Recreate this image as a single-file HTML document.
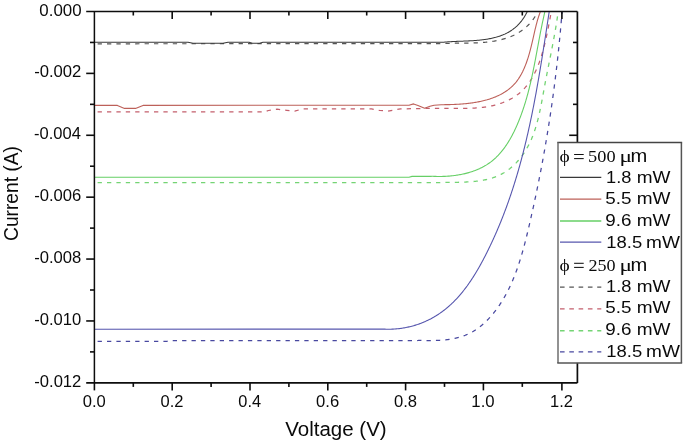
<!DOCTYPE html>
<html><head><meta charset="utf-8"><style>
html,body{margin:0;padding:0;background:#fff;width:685px;height:441px;overflow:hidden}
svg{display:block}
svg{font-family:"Liberation Sans",sans-serif}
</style></head><body>
<svg width="685" height="441" viewBox="0 0 685 441" style="will-change:transform">
<rect width="685" height="441" fill="#fff"/>
<defs><clipPath id="pc"><rect x="94.40" y="11.50" width="483.00" height="371.40"/></clipPath></defs>
<g clip-path="url(#pc)" fill="none" stroke-width="1.25" stroke-linejoin="round">
<path d="M94.40 43.80 L439.00 43.60 L440.02 43.59 L441.00 43.54 L441.97 43.50 L442.95 43.46 L443.94 43.42 L444.93 43.39 L445.92 43.36 L446.91 43.34 L447.91 43.32 L448.91 43.30 L449.91 43.28 L450.91 43.27 L451.92 43.25 L452.93 43.24 L453.94 43.23 L454.95 43.22 L455.97 43.21 L456.98 43.21 L458.00 43.20 L459.02 43.19 L460.04 43.19 L461.06 43.18 L462.09 43.17 L463.11 43.16 L464.13 43.15 L465.16 43.14 L466.18 43.12 L467.21 43.11 L468.23 43.09 L469.25 43.07 L470.28 43.05 L471.30 43.02 L472.33 43.00 L473.35 42.96 L474.37 42.93 L475.39 42.89 L476.41 42.84 L477.43 42.80 L478.44 42.74 L479.46 42.69 L480.47 42.62 L481.48 42.56 L482.49 42.48 L483.50 42.40 L484.51 42.32 L485.51 42.23 L486.51 42.13 L487.51 42.02 L488.50 41.91 L489.49 41.79 L490.48 41.66 L491.46 41.53 L492.44 41.39 L493.42 41.23 L494.40 41.07 L495.37 40.90 L496.33 40.73 L497.29 40.54 L498.25 40.34 L499.20 40.13 L500.15 39.92 L501.09 39.69 L502.03 39.45 L502.96 39.20 L503.89 38.94 L504.81 38.67 L505.73 38.39 L506.64 38.10 L507.55 37.79 L508.45 37.47 L509.34 37.14 L510.23 36.80 L511.11 36.44 L511.98 36.07 L512.85 35.68 L513.71 35.29 L514.56 34.87 L515.41 34.45 L516.25 34.01 L517.08 33.55 L517.90 33.08 L518.72 32.59 L519.53 32.09 L520.33 31.58 L521.12 31.04 L521.90 30.49 L522.68 29.93 L523.45 29.34 L524.21 28.74 L524.95 28.13 L525.69 27.49 L526.43 26.84 L527.15 26.17 L527.86 25.48 L528.56 24.77 L529.25 24.05 L529.94 23.30 L530.61 22.54 L531.27 21.75 L531.93 20.95 L532.57 20.12 L533.20 19.28 L533.82 18.42 L534.43 17.53 L535.03 16.63 L535.61 15.70 L536.19 14.75 L536.75 13.78 L537.31 12.79 L537.85 11.77 L542.01 3.79" stroke="#555" stroke-width="1.20" stroke-dasharray="4.3 5.1" stroke-dashoffset="6.2"/>
<path d="M94.40 111.90 L265.00 111.80 L268.40 110.50 L277.00 109.20 L286.80 110.30 L294.70 111.10 L302.60 108.90 L371.50 108.90 L380.00 110.50 L388.00 111.10 L400.40 108.90 L433.00 108.30 L437.50 108.32 L438.52 108.33 L439.50 108.32 L440.48 108.31 L441.46 108.31 L442.45 108.31 L443.44 108.31 L444.43 108.31 L445.43 108.32 L446.43 108.33 L447.43 108.34 L448.44 108.35 L449.45 108.36 L450.45 108.37 L451.47 108.38 L452.48 108.39 L453.50 108.40 L454.51 108.41 L455.53 108.42 L456.55 108.42 L457.57 108.43 L458.60 108.43 L459.62 108.44 L460.64 108.43 L461.67 108.43 L462.69 108.43 L463.72 108.42 L464.74 108.41 L465.77 108.39 L466.80 108.37 L467.82 108.35 L468.85 108.32 L469.87 108.28 L470.90 108.25 L471.92 108.20 L472.94 108.15 L473.96 108.10 L474.98 108.04 L476.00 107.97 L477.02 107.89 L478.03 107.81 L479.05 107.72 L480.06 107.63 L481.07 107.52 L482.08 107.41 L483.08 107.29 L484.08 107.16 L485.08 107.02 L486.08 106.88 L487.08 106.72 L488.07 106.55 L489.05 106.38 L490.04 106.19 L491.02 105.99 L492.00 105.78 L492.97 105.56 L493.94 105.33 L494.90 105.09 L495.86 104.84 L496.82 104.57 L497.77 104.30 L498.71 104.01 L499.65 103.71 L500.59 103.40 L501.51 103.07 L502.44 102.74 L503.35 102.39 L504.26 102.03 L505.16 101.66 L506.05 101.28 L506.94 100.88 L507.81 100.47 L508.68 100.05 L509.55 99.62 L510.40 99.17 L511.24 98.71 L512.08 98.24 L512.90 97.75 L513.72 97.26 L514.53 96.74 L515.32 96.22 L516.11 95.68 L516.88 95.13 L517.65 94.57 L518.40 93.99 L519.14 93.39 L519.88 92.79 L520.59 92.17 L521.30 91.54 L522.00 90.89 L522.68 90.23 L523.35 89.55 L524.01 88.86 L524.65 88.16 L525.29 87.45 L525.91 86.72 L526.52 85.98 L527.12 85.23 L527.71 84.47 L528.29 83.70 L528.86 82.91 L529.41 82.12 L529.96 81.31 L530.50 80.50 L531.02 79.67 L531.54 78.83 L532.04 77.99 L532.54 77.13 L533.03 76.27 L533.50 75.40 L533.97 74.51 L534.43 73.63 L534.88 72.73 L535.32 71.82 L535.75 70.91 L536.17 69.99 L536.59 69.07 L537.00 68.13 L537.39 67.19 L537.78 66.25 L538.17 65.30 L538.54 64.34 L538.91 63.38 L539.27 62.41 L539.62 61.44 L539.96 60.46 L540.30 59.48 L540.63 58.50 L540.96 57.51 L541.27 56.52 L541.59 55.53 L541.89 54.53 L542.19 53.53 L542.48 52.53 L542.77 51.53 L543.05 50.52 L543.33 49.51 L543.60 48.51 L543.86 47.50 L544.12 46.49 L544.38 45.48 L544.63 44.47 L544.87 43.46 L545.11 42.45 L545.35 41.44 L545.58 40.43 L545.81 39.42 L546.03 38.42 L546.25 37.41 L546.47 36.41 L546.68 35.41 L546.89 34.41 L547.10 33.42 L547.30 32.43 L547.50 31.44 L547.70 30.45 L547.90 29.47 L548.09 28.50 L548.28 27.52 L548.47 26.56 L548.65 25.59 L548.84 24.64 L549.02 23.69 L549.20 22.74 L549.38 21.80 L549.56 20.87 L549.73 19.94 L549.91 19.02 L550.09 18.10 L550.26 17.20 L550.43 16.30 L550.61 15.41 L550.78 14.53 L550.95 13.65 L552.70 4.83" stroke="#c45f6c" stroke-width="1.25" stroke-dasharray="4.3 5.1" stroke-dashoffset="6.2"/>
<path d="M94.40 182.70 L440.00 182.60 L442.00 182.56 L442.99 182.49 L443.96 182.47 L444.94 182.45 L445.92 182.44 L446.91 182.42 L447.90 182.41 L448.89 182.40 L449.89 182.39 L450.90 182.38 L451.91 182.37 L452.92 182.35 L453.93 182.34 L454.95 182.33 L455.97 182.31 L456.99 182.30 L458.01 182.28 L459.04 182.26 L460.07 182.23 L461.10 182.20 L462.13 182.17 L463.16 182.14 L464.19 182.10 L465.22 182.06 L466.25 182.01 L467.28 181.96 L468.31 181.90 L469.34 181.83 L470.37 181.76 L471.40 181.69 L472.42 181.60 L473.45 181.51 L474.47 181.41 L475.49 181.31 L476.50 181.20 L477.51 181.07 L478.52 180.94 L479.53 180.80 L480.53 180.65 L481.53 180.50 L482.52 180.33 L483.51 180.15 L484.49 179.96 L485.47 179.76 L486.44 179.55 L487.41 179.32 L488.37 179.09 L489.33 178.84 L490.27 178.58 L491.22 178.30 L492.15 178.02 L493.08 177.72 L494.00 177.40 L494.91 177.07 L495.81 176.73 L496.70 176.37 L497.59 176.00 L498.47 175.61 L499.33 175.21 L500.19 174.79 L501.04 174.35 L501.88 173.91 L502.71 173.44 L503.54 172.97 L504.35 172.47 L505.16 171.97 L505.95 171.45 L506.74 170.92 L507.51 170.37 L508.28 169.81 L509.04 169.24 L509.79 168.66 L510.53 168.06 L511.26 167.45 L511.99 166.83 L512.70 166.20 L513.40 165.56 L514.10 164.90 L514.78 164.24 L515.46 163.56 L516.13 162.87 L516.78 162.17 L517.43 161.46 L518.07 160.75 L518.70 160.02 L519.32 159.28 L519.94 158.53 L520.54 157.77 L521.13 157.01 L521.71 156.23 L522.29 155.45 L522.85 154.65 L523.41 153.85 L523.96 153.05 L524.49 152.23 L525.02 151.40 L525.54 150.57 L526.05 149.73 L526.55 148.89 L527.04 148.04 L527.52 147.18 L527.99 146.31 L528.45 145.44 L528.90 144.56 L529.35 143.68 L529.78 142.79 L530.20 141.89 L530.62 140.99 L531.02 140.09 L531.42 139.18 L531.81 138.26 L532.19 137.34 L532.56 136.42 L532.92 135.49 L533.28 134.56 L533.62 133.62 L533.96 132.68 L534.29 131.73 L534.62 130.78 L534.94 129.83 L535.25 128.87 L535.55 127.91 L535.85 126.95 L536.14 125.98 L536.42 125.01 L536.70 124.04 L536.98 123.06 L537.24 122.08 L537.50 121.10 L537.76 120.12 L538.01 119.13 L538.26 118.15 L538.50 117.16 L538.74 116.16 L538.97 115.17 L539.20 114.17 L539.42 113.18 L539.64 112.18 L539.86 111.18 L540.07 110.18 L540.28 109.17 L540.49 108.17 L540.69 107.17 L540.89 106.16 L541.09 105.16 L541.29 104.15 L541.48 103.15 L541.67 102.14 L541.86 101.13 L542.05 100.13 L542.23 99.12 L542.42 98.12 L542.60 97.11 L542.78 96.11 L542.97 95.10 L543.15 94.10 L543.33 93.10 L543.51 92.10 L543.69 91.10 L543.87 90.10 L544.05 89.10 L544.23 88.10 L544.41 87.11 L544.59 86.12 L544.78 85.13 L544.96 84.14 L545.14 83.15 L545.33 82.17 L545.52 81.19 L545.70 80.21 L545.89 79.23 L546.08 78.25 L546.27 77.27 L546.45 76.29 L546.64 75.32 L546.83 74.35 L547.02 73.37 L547.21 72.40 L547.40 71.43 L547.60 70.46 L547.79 69.50 L547.98 68.53 L548.17 67.56 L548.36 66.59 L548.55 65.63 L548.75 64.66 L548.94 63.70 L549.13 62.74 L549.32 61.77 L549.51 60.81 L549.70 59.85 L549.90 58.88 L550.09 57.92 L550.28 56.96 L550.47 56.00 L550.66 55.03 L550.85 54.07 L551.04 53.11 L551.23 52.15 L551.42 51.18 L551.61 50.22 L551.79 49.25 L551.98 48.29 L552.17 47.32 L552.35 46.36 L552.54 45.39 L552.72 44.42 L552.91 43.46 L553.09 42.49 L553.27 41.52 L553.45 40.55 L553.63 39.58 L553.81 38.60 L553.99 37.63 L554.17 36.65 L554.34 35.68 L554.52 34.70 L554.69 33.72 L554.86 32.74 L555.04 31.76 L555.21 30.77 L555.37 29.79 L555.54 28.80 L555.71 27.81 L555.87 26.82 L556.04 25.82 L556.20 24.83 L556.36 23.83 L556.52 22.83 L556.67 21.83 L556.83 20.83 L556.98 19.82 L557.14 18.81 L557.29 17.80 L557.43 16.79 L558.73 7.88" stroke="#74d474" stroke-width="1.30" stroke-dasharray="4.3 5.1" stroke-dashoffset="6.2"/>
<path d="M94.40 341.30 L167.00 341.30 L171.00 340.50 L417.60 340.50 L418.56 340.41 L419.55 340.43 L420.54 340.45 L421.53 340.47 L422.53 340.49 L423.53 340.51 L424.53 340.52 L425.54 340.53 L426.55 340.54 L427.57 340.55 L428.58 340.55 L429.60 340.55 L430.62 340.54 L431.64 340.53 L432.66 340.52 L433.69 340.50 L434.71 340.47 L435.73 340.44 L436.76 340.41 L437.78 340.36 L438.80 340.31 L439.83 340.26 L440.85 340.19 L441.87 340.12 L442.89 340.04 L443.90 339.96 L444.92 339.86 L445.93 339.76 L446.94 339.64 L447.95 339.52 L448.95 339.39 L449.95 339.24 L450.95 339.09 L451.94 338.92 L452.93 338.75 L453.91 338.56 L454.89 338.36 L455.86 338.15 L456.83 337.92 L457.79 337.69 L458.75 337.44 L459.70 337.17 L460.64 336.90 L461.58 336.60 L462.50 336.30 L463.43 335.98 L464.34 335.64 L465.25 335.29 L466.14 334.92 L467.03 334.54 L467.92 334.14 L468.79 333.73 L469.65 333.31 L470.51 332.86 L471.36 332.41 L472.20 331.94 L473.04 331.46 L473.86 330.96 L474.68 330.45 L475.49 329.93 L476.30 329.40 L477.09 328.85 L477.88 328.29 L478.66 327.72 L479.43 327.14 L480.19 326.55 L480.95 325.94 L481.70 325.33 L482.44 324.70 L483.17 324.07 L483.90 323.42 L484.62 322.77 L485.33 322.10 L486.03 321.43 L486.73 320.75 L487.42 320.06 L488.10 319.36 L488.78 318.65 L489.44 317.93 L490.10 317.21 L490.76 316.48 L491.40 315.74 L492.04 314.99 L492.67 314.24 L493.30 313.48 L493.92 312.71 L494.53 311.94 L495.13 311.17 L495.73 310.38 L496.32 309.60 L496.90 308.81 L497.48 308.01 L498.04 307.21 L498.61 306.40 L499.16 305.59 L499.71 304.78 L500.25 303.96 L500.79 303.13 L501.32 302.31 L501.84 301.48 L502.36 300.64 L502.87 299.80 L503.37 298.96 L503.87 298.11 L504.36 297.26 L504.85 296.41 L505.33 295.55 L505.81 294.68 L506.27 293.82 L506.74 292.95 L507.20 292.08 L507.65 291.20 L508.09 290.32 L508.53 289.44 L508.97 288.55 L509.40 287.66 L509.83 286.77 L510.25 285.87 L510.66 284.97 L511.07 284.07 L511.48 283.16 L511.88 282.25 L512.27 281.34 L512.66 280.43 L513.05 279.51 L513.43 278.59 L513.80 277.67 L514.18 276.75 L514.54 275.82 L514.91 274.89 L515.27 273.96 L515.62 273.02 L515.97 272.08 L516.32 271.14 L516.66 270.20 L517.00 269.26 L517.33 268.31 L517.66 267.36 L517.99 266.41 L518.31 265.46 L518.63 264.50 L518.95 263.55 L519.26 262.59 L519.57 261.63 L519.88 260.67 L520.18 259.70 L520.48 258.74 L520.78 257.77 L521.07 256.80 L521.36 255.84 L521.65 254.86 L521.93 253.89 L522.21 252.92 L522.49 251.94 L522.77 250.97 L523.04 249.99 L523.31 249.01 L523.58 248.03 L523.84 247.05 L524.11 246.07 L524.37 245.09 L524.63 244.10 L524.88 243.12 L525.14 242.14 L525.39 241.15 L525.64 240.16 L525.89 239.18 L526.14 238.19 L526.38 237.20 L526.63 236.21 L526.87 235.23 L527.11 234.24 L527.35 233.25 L527.58 232.26 L527.82 231.27 L528.06 230.28 L528.29 229.29 L528.52 228.30 L528.75 227.31 L528.98 226.32 L529.21 225.33 L529.44 224.34 L529.67 223.36 L529.90 222.37 L530.12 221.38 L530.35 220.39 L530.57 219.40 L530.79 218.42 L531.02 217.43 L531.24 216.44 L531.46 215.46 L531.68 214.47 L531.90 213.49 L532.12 212.50 L532.34 211.52 L532.56 210.53 L532.77 209.55 L532.99 208.56 L533.21 207.58 L533.42 206.59 L533.64 205.61 L533.85 204.63 L534.06 203.64 L534.27 202.66 L534.48 201.68 L534.69 200.70 L534.90 199.71 L535.11 198.73 L535.32 197.75 L535.53 196.77 L535.73 195.79 L535.94 194.81 L536.14 193.82 L536.35 192.84 L536.55 191.86 L536.76 190.88 L536.96 189.90 L537.16 188.92 L537.36 187.94 L537.56 186.96 L537.76 185.98 L537.96 185.00 L538.15 184.02 L538.35 183.04 L538.55 182.06 L538.74 181.09 L538.94 180.11 L539.13 179.13 L539.32 178.15 L539.52 177.17 L539.71 176.19 L539.90 175.21 L540.09 174.24 L540.28 173.26 L540.47 172.28 L540.66 171.30 L540.84 170.32 L541.03 169.35 L541.22 168.37 L541.40 167.39 L541.59 166.41 L541.77 165.44 L541.95 164.46 L542.14 163.48 L542.32 162.50 L542.50 161.53 L542.68 160.55 L542.86 159.57 L543.04 158.60 L543.22 157.62 L543.39 156.64 L543.57 155.66 L543.75 154.69 L543.92 153.71 L544.10 152.73 L544.27 151.76 L544.44 150.78 L544.62 149.80 L544.79 148.83 L544.96 147.85 L545.13 146.87 L545.30 145.89 L545.47 144.92 L545.64 143.94 L545.80 142.96 L545.97 141.99 L546.14 141.01 L546.30 140.03 L546.47 139.05 L546.63 138.08 L546.79 137.10 L546.96 136.12 L547.12 135.14 L547.28 134.17 L547.44 133.19 L547.60 132.21 L547.76 131.23 L547.92 130.25 L548.07 129.28 L548.23 128.30 L548.39 127.32 L548.54 126.34 L548.70 125.36 L548.85 124.38 L549.01 123.41 L549.16 122.43 L549.31 121.45 L549.46 120.47 L549.61 119.49 L549.76 118.51 L549.91 117.53 L550.06 116.55 L550.21 115.57 L550.36 114.59 L550.50 113.61 L550.65 112.63 L550.80 111.65 L550.94 110.67 L551.09 109.69 L551.23 108.71 L551.37 107.72 L551.51 106.74 L551.65 105.76 L551.80 104.78 L551.94 103.80 L552.07 102.81 L552.21 101.83 L552.35 100.85 L552.49 99.87 L552.63 98.88 L552.76 97.90 L552.90 96.92 L553.03 95.93 L553.17 94.95 L553.30 93.96 L553.43 92.98 L553.56 91.99 L553.69 91.01 L553.82 90.02 L553.95 89.04 L554.08 88.05 L554.21 87.06 L554.34 86.08 L554.47 85.09 L554.60 84.10 L554.72 83.12 L554.85 82.13 L554.97 81.14 L555.10 80.15 L555.22 79.16 L555.34 78.17 L555.46 77.18 L555.59 76.19 L555.71 75.20 L555.83 74.21 L555.95 73.22 L556.06 72.23 L556.18 71.24 L556.30 70.25 L556.42 69.26 L556.53 68.26 L556.65 67.27 L556.76 66.28 L556.88 65.28 L556.99 64.29 L557.11 63.29 L557.22 62.30 L557.33 61.30 L557.44 60.31 L557.55 59.31 L557.66 58.32 L557.77 57.32 L557.88 56.32 L557.99 55.32 L558.09 54.33 L558.20 53.33 L558.31 52.33 L558.41 51.33 L558.52 50.33 L558.62 49.33 L558.72 48.33 L558.83 47.33 L558.93 46.32 L559.03 45.32 L559.13 44.32 L559.23 43.32 L559.33 42.31 L559.43 41.31 L559.53 40.30 L559.63 39.30 L559.73 38.29 L559.82 37.29 L559.92 36.28 L560.01 35.27 L560.11 34.27 L560.20 33.26 L560.30 32.25 L560.39 31.24 L560.48 30.23 L560.57 29.22 L560.66 28.21 L560.75 27.20 L560.84 26.19 L560.93 25.17 L561.02 24.16 L561.11 23.15 L561.20 22.13 L561.28 21.12 L561.37 20.10 L561.46 19.09 L561.54 18.07 L561.62 17.05 L561.71 16.04 L561.79 15.02 L561.87 14.00 L561.96 12.98 L562.04 11.96 L562.75 2.99" stroke="#4848a0" stroke-width="1.25" stroke-dasharray="4.3 5.1" stroke-dashoffset="6.2"/>
<path d="M94.40 42.30 L188.00 42.30 L193.00 43.30 L223.00 43.30 L228.00 42.30 L249.00 42.30 L252.50 43.20 L259.50 43.20 L263.00 42.30 L444.00 42.20 L445.00 42.07 L445.97 41.99 L446.94 41.92 L447.92 41.85 L448.90 41.79 L449.88 41.72 L450.87 41.67 L451.86 41.61 L452.85 41.56 L453.85 41.52 L454.85 41.47 L455.85 41.43 L456.85 41.38 L457.86 41.34 L458.87 41.30 L459.88 41.26 L460.89 41.22 L461.90 41.19 L462.92 41.15 L463.93 41.10 L464.95 41.06 L465.96 41.02 L466.98 40.98 L468.00 40.93 L469.01 40.88 L470.03 40.83 L471.05 40.77 L472.06 40.71 L473.07 40.65 L474.09 40.58 L475.10 40.51 L476.11 40.43 L477.12 40.35 L478.12 40.26 L479.13 40.17 L480.13 40.07 L481.13 39.96 L482.12 39.85 L483.12 39.73 L484.11 39.60 L485.09 39.46 L486.08 39.32 L487.06 39.16 L488.03 39.00 L489.00 38.83 L489.97 38.64 L490.93 38.45 L491.89 38.25 L492.84 38.04 L493.79 37.81 L494.73 37.57 L495.67 37.33 L496.60 37.07 L497.52 36.79 L498.44 36.51 L499.35 36.21 L500.25 35.90 L501.15 35.57 L502.04 35.23 L502.93 34.87 L503.80 34.50 L504.67 34.12 L505.53 33.72 L506.38 33.30 L507.23 32.87 L508.06 32.42 L508.89 31.95 L509.71 31.47 L510.51 30.96 L511.31 30.44 L512.10 29.91 L512.88 29.35 L513.65 28.77 L514.41 28.18 L515.16 27.56 L515.90 26.93 L516.63 26.27 L517.35 25.59 L518.05 24.89 L518.75 24.17 L519.43 23.43 L520.10 22.67 L520.76 21.88 L521.41 21.07 L522.04 20.24 L522.67 19.39 L523.27 18.51 L523.87 17.60 L524.45 16.67 L525.02 15.72 L525.58 14.74 L526.12 13.74 L526.65 12.71 L527.16 11.65 L531.01 3.52" stroke="#383838" stroke-width="1.05"/>
<path d="M94.40 105.40 L117.40 105.40 L124.50 108.40 L135.50 108.40 L143.00 105.40 L409.00 105.20 L413.60 103.90 L418.00 105.50 L424.60 108.20 L430.00 106.20 L434.10 105.30 L441.20 104.80 L442.00 104.77 L443.00 104.69 L443.98 104.68 L444.96 104.67 L445.94 104.66 L446.92 104.64 L447.92 104.62 L448.91 104.60 L449.91 104.58 L450.91 104.55 L451.91 104.52 L452.92 104.48 L453.93 104.44 L454.94 104.40 L455.95 104.35 L456.97 104.30 L457.99 104.24 L459.00 104.18 L460.02 104.11 L461.04 104.04 L462.06 103.96 L463.09 103.88 L464.11 103.79 L465.13 103.70 L466.15 103.60 L467.17 103.49 L468.19 103.38 L469.21 103.26 L470.22 103.13 L471.24 103.00 L472.25 102.86 L473.27 102.71 L474.28 102.55 L475.28 102.39 L476.29 102.22 L477.29 102.04 L478.29 101.85 L479.28 101.65 L480.27 101.45 L481.26 101.24 L482.24 101.02 L483.22 100.78 L484.20 100.54 L485.17 100.29 L486.13 100.03 L487.09 99.77 L488.04 99.49 L488.99 99.20 L489.93 98.90 L490.87 98.59 L491.80 98.27 L492.72 97.94 L493.64 97.59 L494.54 97.24 L495.45 96.87 L496.34 96.50 L497.22 96.11 L498.10 95.71 L498.97 95.30 L499.83 94.87 L500.68 94.44 L501.52 93.99 L502.35 93.52 L503.18 93.05 L503.99 92.56 L504.79 92.06 L505.58 91.54 L506.37 91.01 L507.14 90.47 L507.90 89.92 L508.65 89.34 L509.38 88.76 L510.11 88.16 L510.82 87.55 L511.53 86.92 L512.22 86.27 L512.89 85.61 L513.56 84.94 L514.21 84.25 L514.84 83.54 L515.47 82.82 L516.08 82.08 L516.67 81.33 L517.25 80.56 L517.82 79.77 L518.38 78.97 L518.92 78.16 L519.45 77.33 L519.97 76.50 L520.48 75.65 L520.97 74.78 L521.45 73.91 L521.92 73.02 L522.38 72.13 L522.83 71.23 L523.26 70.31 L523.69 69.39 L524.10 68.46 L524.51 67.52 L524.90 66.58 L525.29 65.62 L525.66 64.67 L526.03 63.70 L526.39 62.73 L526.73 61.76 L527.07 60.78 L527.40 59.80 L527.73 58.82 L528.04 57.83 L528.35 56.84 L528.65 55.84 L528.94 54.85 L529.23 53.85 L529.51 52.85 L529.79 51.85 L530.06 50.85 L530.32 49.84 L530.58 48.84 L530.83 47.83 L531.08 46.83 L531.33 45.82 L531.57 44.82 L531.81 43.81 L532.05 42.81 L532.28 41.80 L532.52 40.80 L532.75 39.80 L532.97 38.80 L533.20 37.81 L533.43 36.81 L533.65 35.82 L533.88 34.83 L534.10 33.85 L534.33 32.86 L534.55 31.88 L534.78 30.91 L535.00 29.94 L535.23 28.97 L535.46 28.01 L535.70 27.06 L535.93 26.11 L536.17 25.16 L536.41 24.22 L536.66 23.29 L536.91 22.36 L537.16 21.44 L537.42 20.52 L537.68 19.62 L537.95 18.72 L538.22 17.83 L538.50 16.94 L538.78 16.07 L539.08 15.20 L539.37 14.34 L539.68 13.49 L539.99 12.65 L543.17 4.23" stroke="#bd6059" stroke-width="1.10"/>
<path d="M94.40 177.20 L409.00 177.20 L412.00 176.40 L431.00 176.33 L431.97 176.27 L432.96 176.32 L433.96 176.36 L434.96 176.39 L435.96 176.42 L436.96 176.44 L437.97 176.46 L438.97 176.46 L439.98 176.46 L440.99 176.45 L442.00 176.43 L443.01 176.41 L444.01 176.37 L445.02 176.33 L446.03 176.28 L447.04 176.22 L448.05 176.15 L449.06 176.08 L450.07 175.99 L451.07 175.90 L452.08 175.80 L453.08 175.69 L454.08 175.56 L455.08 175.44 L456.08 175.30 L457.08 175.15 L458.07 174.99 L459.06 174.82 L460.05 174.65 L461.03 174.46 L462.01 174.26 L462.99 174.06 L463.96 173.84 L464.94 173.61 L465.90 173.38 L466.86 173.13 L467.82 172.87 L468.78 172.60 L469.72 172.32 L470.67 172.03 L471.60 171.73 L472.54 171.42 L473.46 171.10 L474.39 170.76 L475.30 170.42 L476.21 170.06 L477.11 169.69 L478.01 169.31 L478.90 168.92 L479.78 168.52 L480.65 168.10 L481.52 167.67 L482.38 167.23 L483.23 166.78 L484.08 166.32 L484.91 165.84 L485.74 165.35 L486.56 164.85 L487.37 164.33 L488.17 163.81 L488.96 163.27 L489.75 162.71 L490.52 162.15 L491.28 161.57 L492.04 160.98 L492.78 160.37 L493.51 159.75 L494.24 159.12 L494.95 158.48 L495.66 157.83 L496.36 157.16 L497.04 156.48 L497.72 155.79 L498.39 155.09 L499.05 154.38 L499.70 153.66 L500.34 152.93 L500.98 152.19 L501.60 151.44 L502.22 150.68 L502.83 149.91 L503.43 149.13 L504.02 148.34 L504.60 147.55 L505.18 146.74 L505.75 145.93 L506.31 145.11 L506.86 144.29 L507.40 143.45 L507.94 142.61 L508.47 141.76 L508.99 140.91 L509.51 140.05 L510.01 139.18 L510.51 138.31 L511.01 137.43 L511.49 136.54 L511.97 135.66 L512.45 134.76 L512.91 133.86 L513.37 132.96 L513.83 132.06 L514.27 131.15 L514.71 130.23 L515.15 129.31 L515.57 128.39 L516.00 127.47 L516.41 126.54 L516.82 125.62 L517.23 124.69 L517.63 123.75 L518.02 122.82 L518.41 121.88 L518.79 120.95 L519.16 120.01 L519.54 119.07 L519.90 118.13 L520.26 117.20 L520.62 116.26 L520.97 115.32 L521.32 114.37 L521.66 113.43 L522.00 112.49 L522.33 111.55 L522.66 110.61 L522.98 109.66 L523.30 108.72 L523.61 107.78 L523.92 106.83 L524.23 105.89 L524.53 104.94 L524.83 103.99 L525.12 103.05 L525.41 102.10 L525.69 101.15 L525.98 100.21 L526.25 99.26 L526.53 98.31 L526.80 97.36 L527.07 96.41 L527.33 95.46 L527.59 94.51 L527.85 93.56 L528.10 92.61 L528.35 91.65 L528.60 90.70 L528.84 89.75 L529.08 88.80 L529.32 87.84 L529.56 86.89 L529.79 85.93 L530.02 84.98 L530.25 84.02 L530.47 83.07 L530.69 82.11 L530.91 81.16 L531.13 80.20 L531.35 79.24 L531.56 78.28 L531.77 77.33 L531.98 76.37 L532.19 75.41 L532.39 74.45 L532.59 73.49 L532.80 72.53 L533.00 71.57 L533.19 70.61 L533.39 69.65 L533.58 68.69 L533.78 67.73 L533.97 66.76 L534.16 65.80 L534.35 64.84 L534.54 63.88 L534.73 62.91 L534.91 61.95 L535.10 60.99 L535.28 60.02 L535.47 59.06 L535.65 58.09 L535.83 57.13 L536.01 56.16 L536.19 55.20 L536.37 54.23 L536.55 53.27 L536.73 52.30 L536.91 51.33 L537.09 50.37 L537.27 49.40 L537.45 48.43 L537.63 47.46 L537.81 46.50 L537.99 45.53 L538.17 44.56 L538.35 43.59 L538.53 42.62 L538.71 41.65 L538.89 40.68 L539.08 39.71 L539.26 38.74 L539.44 37.77 L539.63 36.80 L539.81 35.83 L540.00 34.86 L540.18 33.89 L540.37 32.92 L540.56 31.95 L540.75 30.98 L540.95 30.01 L541.14 29.03 L541.33 28.06 L541.53 27.09 L541.73 26.12 L541.93 25.14 L542.13 24.17 L542.33 23.20 L542.54 22.22 L542.74 21.25 L542.95 20.28 L543.16 19.30 L543.38 18.33 L543.59 17.36 L543.81 16.38 L544.03 15.41 L544.25 14.43 L544.48 13.46 L544.70 12.48 L546.76 3.72" stroke="#66cf66" stroke-width="1.10"/>
<path d="M94.40 329.20 L381.00 329.10 L381.93 329.02 L382.95 329.08 L383.96 329.13 L384.98 329.17 L385.99 329.20 L387.00 329.22 L388.02 329.22 L389.03 329.22 L390.04 329.20 L391.05 329.18 L392.05 329.14 L393.06 329.10 L394.07 329.04 L395.07 328.97 L396.07 328.89 L397.07 328.80 L398.07 328.70 L399.07 328.59 L400.07 328.47 L401.06 328.34 L402.05 328.20 L403.04 328.05 L404.02 327.88 L405.00 327.71 L405.98 327.53 L406.96 327.33 L407.93 327.13 L408.90 326.91 L409.87 326.68 L410.84 326.45 L411.80 326.20 L412.75 325.95 L413.71 325.68 L414.66 325.40 L415.60 325.11 L416.54 324.81 L417.48 324.51 L418.41 324.19 L419.34 323.86 L420.26 323.52 L421.18 323.17 L422.10 322.81 L423.01 322.44 L423.91 322.06 L424.81 321.67 L425.71 321.28 L426.60 320.87 L427.48 320.45 L428.36 320.02 L429.24 319.59 L430.11 319.14 L430.98 318.69 L431.84 318.22 L432.69 317.75 L433.54 317.27 L434.38 316.77 L435.22 316.27 L436.06 315.77 L436.88 315.25 L437.71 314.72 L438.52 314.19 L439.33 313.65 L440.14 313.09 L440.94 312.53 L441.73 311.97 L442.52 311.39 L443.30 310.81 L444.08 310.21 L444.84 309.61 L445.61 309.01 L446.36 308.39 L447.12 307.77 L447.86 307.14 L448.60 306.50 L449.33 305.85 L450.06 305.20 L450.78 304.54 L451.50 303.87 L452.21 303.20 L452.91 302.52 L453.61 301.83 L454.30 301.13 L454.99 300.43 L455.67 299.73 L456.35 299.01 L457.02 298.29 L457.68 297.57 L458.34 296.83 L459.00 296.10 L459.65 295.35 L460.29 294.60 L460.93 293.85 L461.57 293.09 L462.20 292.32 L462.82 291.55 L463.44 290.77 L464.06 289.99 L464.67 289.20 L465.28 288.41 L465.88 287.61 L466.47 286.81 L467.07 286.01 L467.65 285.20 L468.24 284.38 L468.81 283.56 L469.39 282.74 L469.96 281.91 L470.53 281.08 L471.09 280.24 L471.64 279.40 L472.20 278.56 L472.75 277.71 L473.29 276.86 L473.83 276.01 L474.37 275.15 L474.91 274.29 L475.43 273.42 L475.96 272.56 L476.48 271.69 L477.00 270.81 L477.52 269.94 L478.03 269.06 L478.54 268.18 L479.04 267.30 L479.54 266.41 L480.04 265.52 L480.54 264.63 L481.03 263.74 L481.52 262.85 L482.00 261.95 L482.48 261.05 L482.96 260.16 L483.44 259.25 L483.91 258.35 L484.38 257.45 L484.85 256.54 L485.32 255.64 L485.78 254.73 L486.24 253.82 L486.69 252.92 L487.15 252.01 L487.60 251.10 L488.05 250.19 L488.50 249.27 L488.94 248.36 L489.38 247.45 L489.82 246.54 L490.26 245.62 L490.69 244.71 L491.12 243.80 L491.55 242.88 L491.98 241.96 L492.41 241.05 L492.83 240.13 L493.25 239.21 L493.67 238.29 L494.08 237.38 L494.50 236.46 L494.91 235.54 L495.31 234.62 L495.72 233.70 L496.12 232.77 L496.53 231.85 L496.93 230.93 L497.32 230.01 L497.72 229.08 L498.11 228.16 L498.50 227.23 L498.89 226.31 L499.27 225.38 L499.66 224.45 L500.04 223.53 L500.42 222.60 L500.80 221.67 L501.17 220.74 L501.54 219.81 L501.91 218.88 L502.28 217.95 L502.65 217.02 L503.01 216.09 L503.38 215.16 L503.74 214.23 L504.09 213.29 L504.45 212.36 L504.80 211.43 L505.16 210.49 L505.51 209.56 L505.85 208.62 L506.20 207.69 L506.54 206.75 L506.89 205.81 L507.23 204.87 L507.56 203.94 L507.90 203.00 L508.23 202.06 L508.57 201.12 L508.90 200.18 L509.22 199.24 L509.55 198.30 L509.87 197.36 L510.20 196.41 L510.52 195.47 L510.84 194.53 L511.15 193.59 L511.47 192.64 L511.78 191.70 L512.09 190.75 L512.40 189.81 L512.71 188.86 L513.02 187.92 L513.32 186.97 L513.62 186.02 L513.92 185.08 L514.22 184.13 L514.52 183.18 L514.82 182.23 L515.11 181.28 L515.40 180.33 L515.69 179.38 L515.98 178.43 L516.27 177.48 L516.55 176.53 L516.84 175.58 L517.12 174.62 L517.40 173.67 L517.68 172.72 L517.95 171.76 L518.23 170.81 L518.50 169.86 L518.78 168.90 L519.05 167.94 L519.32 166.99 L519.58 166.03 L519.85 165.08 L520.11 164.12 L520.38 163.16 L520.64 162.20 L520.90 161.25 L521.16 160.29 L521.41 159.33 L521.67 158.37 L521.92 157.41 L522.18 156.45 L522.43 155.49 L522.68 154.53 L522.92 153.57 L523.17 152.60 L523.42 151.64 L523.66 150.68 L523.90 149.72 L524.15 148.75 L524.39 147.79 L524.62 146.83 L524.86 145.86 L525.10 144.90 L525.33 143.93 L525.57 142.97 L525.80 142.00 L526.03 141.03 L526.26 140.07 L526.49 139.10 L526.71 138.13 L526.94 137.17 L527.16 136.20 L527.39 135.23 L527.61 134.26 L527.83 133.29 L528.05 132.32 L528.27 131.35 L528.48 130.38 L528.70 129.41 L528.92 128.44 L529.13 127.47 L529.34 126.50 L529.55 125.53 L529.76 124.56 L529.97 123.58 L530.18 122.61 L530.39 121.64 L530.60 120.67 L530.80 119.69 L531.01 118.72 L531.21 117.74 L531.41 116.77 L531.61 115.79 L531.81 114.82 L532.01 113.84 L532.21 112.87 L532.41 111.89 L532.60 110.92 L532.80 109.94 L532.99 108.96 L533.18 107.99 L533.38 107.01 L533.57 106.03 L533.76 105.05 L533.95 104.07 L534.14 103.10 L534.32 102.12 L534.51 101.14 L534.70 100.16 L534.88 99.18 L535.07 98.20 L535.25 97.22 L535.43 96.24 L535.62 95.26 L535.80 94.28 L535.98 93.30 L536.16 92.31 L536.34 91.33 L536.51 90.35 L536.69 89.37 L536.87 88.39 L537.04 87.40 L537.22 86.42 L537.39 85.44 L537.57 84.45 L537.74 83.47 L537.91 82.49 L538.09 81.50 L538.26 80.52 L538.43 79.53 L538.60 78.55 L538.77 77.56 L538.94 76.58 L539.11 75.59 L539.27 74.61 L539.44 73.62 L539.61 72.63 L539.77 71.65 L539.94 70.66 L540.10 69.68 L540.27 68.69 L540.43 67.70 L540.60 66.71 L540.76 65.73 L540.92 64.74 L541.08 63.75 L541.24 62.76 L541.41 61.77 L541.57 60.79 L541.73 59.80 L541.89 58.81 L542.05 57.82 L542.20 56.83 L542.36 55.84 L542.52 54.85 L542.68 53.86 L542.84 52.87 L542.99 51.88 L543.15 50.89 L543.31 49.90 L543.46 48.91 L543.62 47.92 L543.78 46.93 L543.93 45.94 L544.09 44.95 L544.24 43.96 L544.40 42.96 L544.55 41.97 L544.70 40.98 L544.86 39.99 L545.01 39.00 L545.17 38.00 L545.32 37.01 L545.47 36.02 L545.63 35.03 L545.78 34.03 L545.93 33.04 L546.08 32.05 L546.24 31.05 L546.39 30.06 L546.54 29.07 L546.69 28.07 L546.85 27.08 L547.00 26.09 L547.15 25.09 L547.30 24.10 L547.45 23.11 L547.61 22.11 L547.76 21.12 L547.91 20.12 L548.06 19.13 L548.21 18.13 L548.36 17.14 L548.52 16.14 L548.67 15.15 L548.82 14.15 L548.97 13.16 L549.13 12.16 L550.49 3.27" stroke="#5757ae" stroke-width="1.10"/>
</g>
<g stroke="#0d0d0d" stroke-linecap="butt">
<line x1="86.20" y1="11.50" x2="577.40" y2="11.50" stroke-width="1.60"/>
<line x1="94.40" y1="11.50" x2="94.40" y2="382.90" stroke-width="1.50"/>
<line x1="86.20" y1="382.90" x2="577.40" y2="382.90" stroke-width="1.80"/>
<line x1="577.40" y1="11.50" x2="577.40" y2="382.90" stroke-width="1.70"/>
<line x1="90.00" y1="42.45" x2="94.40" y2="42.45" stroke-width="1.60"/>
<line x1="573.00" y1="42.45" x2="577.40" y2="42.45" stroke-width="1.60"/>
<line x1="86.20" y1="73.39" x2="94.40" y2="73.39" stroke-width="1.60"/>
<line x1="569.20" y1="73.39" x2="577.40" y2="73.39" stroke-width="1.60"/>
<line x1="90.00" y1="104.34" x2="94.40" y2="104.34" stroke-width="1.60"/>
<line x1="573.00" y1="104.34" x2="577.40" y2="104.34" stroke-width="1.60"/>
<line x1="86.20" y1="135.28" x2="94.40" y2="135.28" stroke-width="1.60"/>
<line x1="569.20" y1="135.28" x2="577.40" y2="135.28" stroke-width="1.60"/>
<line x1="90.00" y1="166.22" x2="94.40" y2="166.22" stroke-width="1.60"/>
<line x1="573.00" y1="166.22" x2="577.40" y2="166.22" stroke-width="1.60"/>
<line x1="86.20" y1="197.17" x2="94.40" y2="197.17" stroke-width="1.60"/>
<line x1="569.20" y1="197.17" x2="577.40" y2="197.17" stroke-width="1.60"/>
<line x1="90.00" y1="228.12" x2="94.40" y2="228.12" stroke-width="1.60"/>
<line x1="573.00" y1="228.12" x2="577.40" y2="228.12" stroke-width="1.60"/>
<line x1="86.20" y1="259.06" x2="94.40" y2="259.06" stroke-width="1.60"/>
<line x1="569.20" y1="259.06" x2="577.40" y2="259.06" stroke-width="1.60"/>
<line x1="90.00" y1="290.00" x2="94.40" y2="290.00" stroke-width="1.60"/>
<line x1="573.00" y1="290.00" x2="577.40" y2="290.00" stroke-width="1.60"/>
<line x1="86.20" y1="320.95" x2="94.40" y2="320.95" stroke-width="1.60"/>
<line x1="569.20" y1="320.95" x2="577.40" y2="320.95" stroke-width="1.60"/>
<line x1="90.00" y1="351.89" x2="94.40" y2="351.89" stroke-width="1.60"/>
<line x1="573.00" y1="351.89" x2="577.40" y2="351.89" stroke-width="1.60"/>
<line x1="94.40" y1="382.90" x2="94.40" y2="390.40" stroke-width="1.60"/>
<line x1="133.30" y1="382.90" x2="133.30" y2="386.90" stroke-width="1.60"/>
<line x1="133.30" y1="11.50" x2="133.30" y2="15.50" stroke-width="1.60"/>
<line x1="172.20" y1="382.90" x2="172.20" y2="390.40" stroke-width="1.60"/>
<line x1="172.20" y1="11.50" x2="172.20" y2="19.00" stroke-width="1.60"/>
<line x1="211.10" y1="382.90" x2="211.10" y2="386.90" stroke-width="1.60"/>
<line x1="211.10" y1="11.50" x2="211.10" y2="15.50" stroke-width="1.60"/>
<line x1="250.00" y1="382.90" x2="250.00" y2="390.40" stroke-width="1.60"/>
<line x1="250.00" y1="11.50" x2="250.00" y2="19.00" stroke-width="1.60"/>
<line x1="288.90" y1="382.90" x2="288.90" y2="386.90" stroke-width="1.60"/>
<line x1="288.90" y1="11.50" x2="288.90" y2="15.50" stroke-width="1.60"/>
<line x1="327.80" y1="382.90" x2="327.80" y2="390.40" stroke-width="1.60"/>
<line x1="327.80" y1="11.50" x2="327.80" y2="19.00" stroke-width="1.60"/>
<line x1="366.70" y1="382.90" x2="366.70" y2="386.90" stroke-width="1.60"/>
<line x1="366.70" y1="11.50" x2="366.70" y2="15.50" stroke-width="1.60"/>
<line x1="405.60" y1="382.90" x2="405.60" y2="390.40" stroke-width="1.60"/>
<line x1="405.60" y1="11.50" x2="405.60" y2="19.00" stroke-width="1.60"/>
<line x1="444.50" y1="382.90" x2="444.50" y2="386.90" stroke-width="1.60"/>
<line x1="444.50" y1="11.50" x2="444.50" y2="15.50" stroke-width="1.60"/>
<line x1="483.40" y1="382.90" x2="483.40" y2="390.40" stroke-width="1.60"/>
<line x1="483.40" y1="11.50" x2="483.40" y2="19.00" stroke-width="1.60"/>
<line x1="522.30" y1="382.90" x2="522.30" y2="386.90" stroke-width="1.60"/>
<line x1="522.30" y1="11.50" x2="522.30" y2="15.50" stroke-width="1.60"/>
<line x1="561.90" y1="382.90" x2="561.90" y2="390.40" stroke-width="1.60"/>
<line x1="561.90" y1="11.50" x2="561.90" y2="19.00" stroke-width="1.60"/>
</g>
<rect x="558.00" y="142.50" width="123.40" height="220.40" fill="#fff"/>
<g stroke-width="1.5" fill="none">
<line x1="557.25" y1="142.50" x2="682.15" y2="142.50" stroke="#444"/>
<line x1="558.00" y1="142.50" x2="558.00" y2="362.90" stroke="#6e6e6e"/>
<line x1="681.40" y1="142.50" x2="681.40" y2="362.90" stroke="#555"/>
<line x1="557.25" y1="362.90" x2="682.15" y2="362.90" stroke="#555"/>
</g>
<line x1="560.0" y1="177.30" x2="601.3" y2="177.30" stroke="#383838" stroke-width="1.35"/>
<line x1="560.0" y1="199.10" x2="601.3" y2="199.10" stroke="#bd6059" stroke-width="1.35"/>
<line x1="560.0" y1="221.00" x2="601.3" y2="221.00" stroke="#66cf66" stroke-width="1.35"/>
<line x1="560.0" y1="242.10" x2="601.3" y2="242.10" stroke="#5757ae" stroke-width="1.35"/>
<line x1="560.0" y1="287.10" x2="601.3" y2="287.10" stroke="#555" stroke-width="1.35" stroke-dasharray="4.6 4.7"/>
<line x1="560.0" y1="308.90" x2="601.3" y2="308.90" stroke="#c45f6c" stroke-width="1.35" stroke-dasharray="4.6 4.7"/>
<line x1="560.0" y1="330.70" x2="601.3" y2="330.70" stroke="#74d474" stroke-width="1.35" stroke-dasharray="4.6 4.7"/>
<line x1="560.0" y1="351.80" x2="601.3" y2="351.80" stroke="#4848a0" stroke-width="1.35" stroke-dasharray="4.6 4.7"/>
<line x1="574.1" y1="154.50" x2="583.7" y2="154.50" stroke="#111" stroke-width="1.05"/>
<line x1="574.1" y1="158.60" x2="583.7" y2="158.60" stroke="#111" stroke-width="1.05"/>
<line x1="574.1" y1="263.30" x2="583.7" y2="263.30" stroke="#111" stroke-width="1.05"/>
<line x1="574.1" y1="267.40" x2="583.7" y2="267.40" stroke="#111" stroke-width="1.05"/>
<text x="39.32" y="15.80" font-family="Liberation Sans" font-size="15.7" textLength="42.27" lengthAdjust="spacingAndGlyphs" fill="#0a0a0a">0.000</text>
<text x="34.16" y="77.49" font-family="Liberation Sans" font-size="15.7" textLength="47.21" lengthAdjust="spacingAndGlyphs" fill="#0a0a0a">-0.002</text>
<text x="34.06" y="139.38" font-family="Liberation Sans" font-size="15.7" textLength="46.86" lengthAdjust="spacingAndGlyphs" fill="#0a0a0a">-0.004</text>
<text x="34.16" y="201.27" font-family="Liberation Sans" font-size="15.7" textLength="47.18" lengthAdjust="spacingAndGlyphs" fill="#0a0a0a">-0.006</text>
<text x="34.16" y="263.16" font-family="Liberation Sans" font-size="15.7" textLength="47.15" lengthAdjust="spacingAndGlyphs" fill="#0a0a0a">-0.008</text>
<text x="34.16" y="325.05" font-family="Liberation Sans" font-size="15.7" textLength="47.10" lengthAdjust="spacingAndGlyphs" fill="#0a0a0a">-0.010</text>
<text x="34.26" y="386.94" font-family="Liberation Sans" font-size="15.7" textLength="47.10" lengthAdjust="spacingAndGlyphs" fill="#0a0a0a">-0.012</text>
<text x="82.71" y="406.80" font-family="Liberation Sans" font-size="15.7" textLength="23.06" lengthAdjust="spacingAndGlyphs" fill="#0a0a0a">0.0</text>
<text x="160.63" y="406.80" font-family="Liberation Sans" font-size="15.7" textLength="22.91" lengthAdjust="spacingAndGlyphs" fill="#0a0a0a">0.2</text>
<text x="238.38" y="406.80" font-family="Liberation Sans" font-size="15.7" textLength="22.75" lengthAdjust="spacingAndGlyphs" fill="#0a0a0a">0.4</text>
<text x="316.11" y="406.80" font-family="Liberation Sans" font-size="15.7" textLength="23.11" lengthAdjust="spacingAndGlyphs" fill="#0a0a0a">0.6</text>
<text x="393.92" y="406.80" font-family="Liberation Sans" font-size="15.7" textLength="23.09" lengthAdjust="spacingAndGlyphs" fill="#0a0a0a">0.8</text>
<text x="471.37" y="406.80" font-family="Liberation Sans" font-size="15.7" textLength="23.29" lengthAdjust="spacingAndGlyphs" fill="#0a0a0a">1.0</text>
<text x="550.02" y="406.80" font-family="Liberation Sans" font-size="15.7" textLength="22.89" lengthAdjust="spacingAndGlyphs" fill="#0a0a0a">1.2</text>
<text x="285.27" y="436.00" font-family="Liberation Sans" font-size="19.6" textLength="101.38" lengthAdjust="spacingAndGlyphs" fill="#0a0a0a">Voltage (V)</text>
<text transform="translate(17.60 240.93) rotate(-90)" x="0" y="0" font-family="Liberation Sans" font-size="20" textLength="94.87" lengthAdjust="spacingAndGlyphs" fill="#0a0a0a">Current (A)</text>
<text x="559.50" y="161.80" font-family="Liberation Serif" font-size="17.5" textLength="10.19" lengthAdjust="spacingAndGlyphs" fill="#0a0a0a">ϕ</text>
<text x="588.13" y="161.80" font-family="Liberation Serif" font-size="17.5" textLength="27.45" lengthAdjust="spacingAndGlyphs" fill="#0a0a0a">500</text>
<text x="619.42" y="161.80" font-family="Liberation Serif" font-size="17.5" textLength="12.51" lengthAdjust="spacingAndGlyphs" fill="#0a0a0a">μ</text>
<text x="630.40" y="161.80" font-family="Liberation Sans" font-size="18" textLength="16.77" lengthAdjust="spacingAndGlyphs" fill="#0a0a0a">m</text>
<text x="606.09" y="183.20" font-family="Liberation Sans" font-size="16.8" textLength="25.38" lengthAdjust="spacingAndGlyphs" fill="#0a0a0a">1.8</text>
<text x="636.75" y="183.20" font-family="Liberation Sans" font-size="16.8" textLength="33.77" lengthAdjust="spacingAndGlyphs" fill="#0a0a0a">mW</text>
<text x="605.30" y="204.30" font-family="Liberation Sans" font-size="16.8" textLength="26.20" lengthAdjust="spacingAndGlyphs" fill="#0a0a0a">5.5</text>
<text x="636.75" y="204.30" font-family="Liberation Sans" font-size="16.8" textLength="33.77" lengthAdjust="spacingAndGlyphs" fill="#0a0a0a">mW</text>
<text x="605.37" y="226.00" font-family="Liberation Sans" font-size="16.8" textLength="26.20" lengthAdjust="spacingAndGlyphs" fill="#0a0a0a">9.6</text>
<text x="636.75" y="226.00" font-family="Liberation Sans" font-size="16.8" textLength="33.77" lengthAdjust="spacingAndGlyphs" fill="#0a0a0a">mW</text>
<text x="606.27" y="247.60" font-family="Liberation Sans" font-size="16.8" textLength="35.91" lengthAdjust="spacingAndGlyphs" fill="#0a0a0a">18.5</text>
<text x="646.05" y="247.60" font-family="Liberation Sans" font-size="16.8" textLength="33.87" lengthAdjust="spacingAndGlyphs" fill="#0a0a0a">mW</text>
<text x="559.50" y="270.60" font-family="Liberation Serif" font-size="17.5" textLength="10.19" lengthAdjust="spacingAndGlyphs" fill="#0a0a0a">ϕ</text>
<text x="588.42" y="270.60" font-family="Liberation Serif" font-size="17.5" textLength="27.15" lengthAdjust="spacingAndGlyphs" fill="#0a0a0a">250</text>
<text x="619.42" y="270.60" font-family="Liberation Serif" font-size="17.5" textLength="12.51" lengthAdjust="spacingAndGlyphs" fill="#0a0a0a">μ</text>
<text x="630.40" y="270.60" font-family="Liberation Sans" font-size="18" textLength="16.77" lengthAdjust="spacingAndGlyphs" fill="#0a0a0a">m</text>
<text x="606.09" y="291.60" font-family="Liberation Sans" font-size="16.8" textLength="25.38" lengthAdjust="spacingAndGlyphs" fill="#0a0a0a">1.8</text>
<text x="636.75" y="291.60" font-family="Liberation Sans" font-size="16.8" textLength="33.77" lengthAdjust="spacingAndGlyphs" fill="#0a0a0a">mW</text>
<text x="605.30" y="313.30" font-family="Liberation Sans" font-size="16.8" textLength="26.20" lengthAdjust="spacingAndGlyphs" fill="#0a0a0a">5.5</text>
<text x="636.75" y="313.30" font-family="Liberation Sans" font-size="16.8" textLength="33.77" lengthAdjust="spacingAndGlyphs" fill="#0a0a0a">mW</text>
<text x="605.37" y="334.90" font-family="Liberation Sans" font-size="16.8" textLength="26.20" lengthAdjust="spacingAndGlyphs" fill="#0a0a0a">9.6</text>
<text x="636.75" y="334.90" font-family="Liberation Sans" font-size="16.8" textLength="33.77" lengthAdjust="spacingAndGlyphs" fill="#0a0a0a">mW</text>
<text x="606.27" y="356.50" font-family="Liberation Sans" font-size="16.8" textLength="35.91" lengthAdjust="spacingAndGlyphs" fill="#0a0a0a">18.5</text>
<text x="646.05" y="356.50" font-family="Liberation Sans" font-size="16.8" textLength="33.87" lengthAdjust="spacingAndGlyphs" fill="#0a0a0a">mW</text>
</svg>
</body></html>
